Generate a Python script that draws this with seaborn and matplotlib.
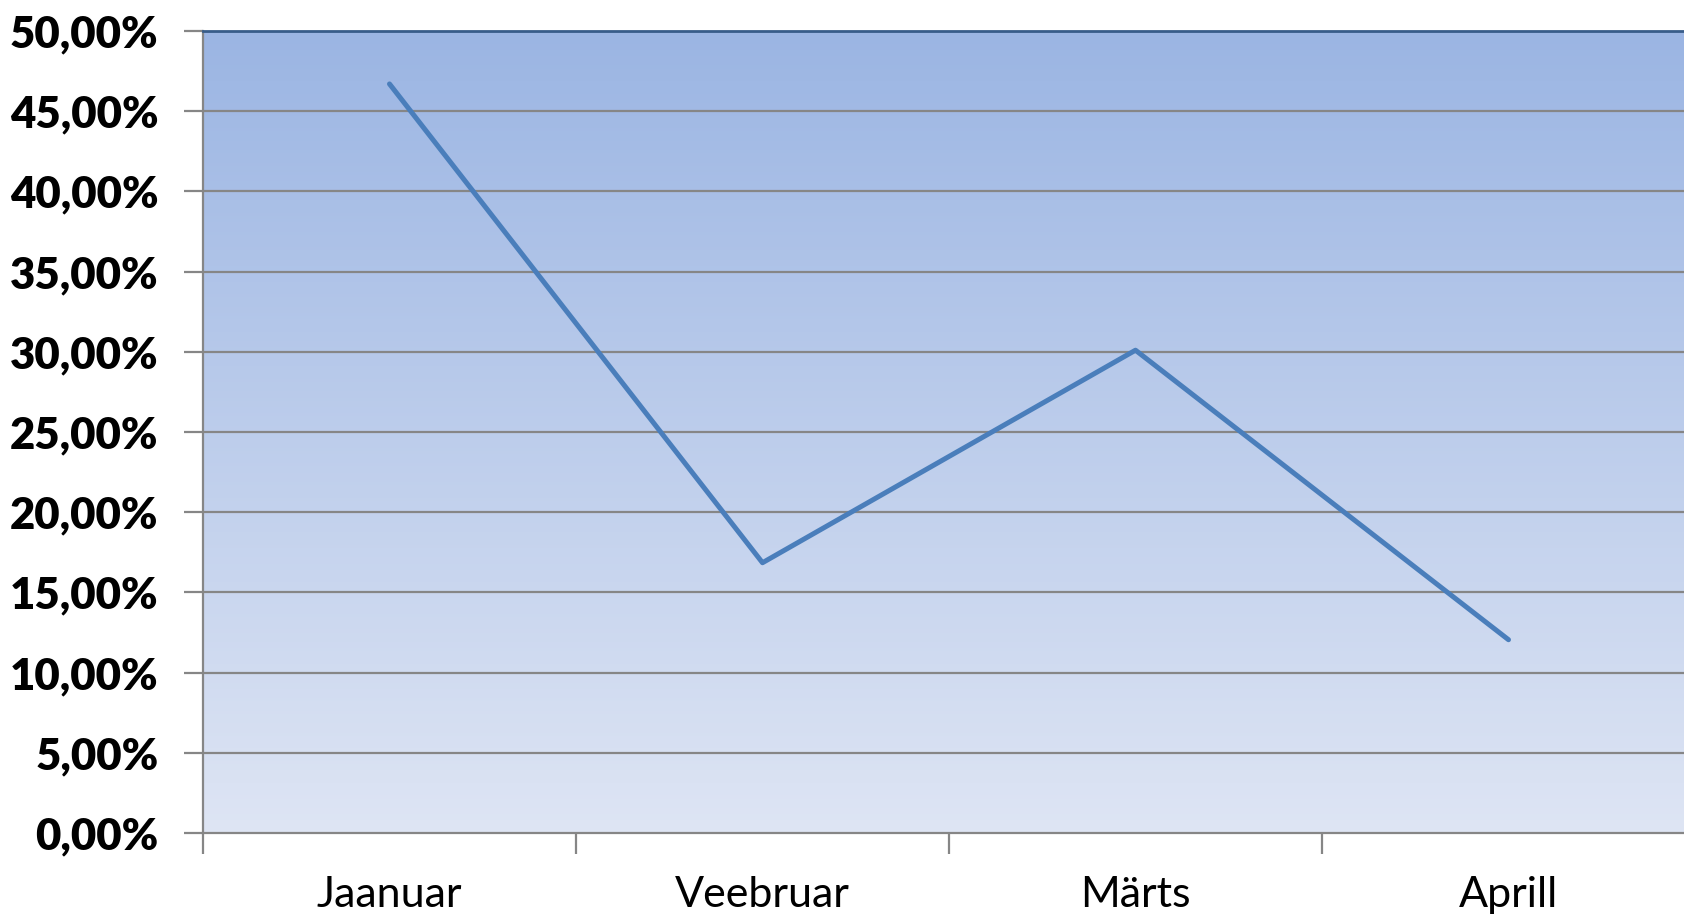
import matplotlib.pyplot as plt
import numpy as np
import pandas as pd
import seaborn as sns
from matplotlib.colors import LinearSegmentedColormap
from matplotlib.ticker import FixedLocator, FuncFormatter

months = ["Jaanuar", "Veebruar", "Märts", "Aprill"]
values = [46.7, 16.85, 30.1, 12.05]
y_ticks = [0, 5, 10, 15, 20, 25, 30, 35, 40, 45, 50]

sns.set_theme(style="white")
plt.rcParams["font.family"] = ["Lato", "DejaVu Sans"]

data = pd.DataFrame({"pos": range(len(months)), "value": values})

fig = plt.figure(figsize=(16.84, 9.18), dpi=100)
ax = fig.add_axes([203 / 1684, 85 / 918, 1492 / 1684, 802 / 918])

# gradient plot background
grad = LinearSegmentedColormap.from_list("bg", ["#dee5f4", "#9bb5e3"])
ax.imshow(np.linspace(0, 1, 256).reshape(-1, 1), cmap=grad, origin="lower",
          aspect="auto", extent=[0, 1, 0, 1], transform=ax.transAxes, zorder=0)

for t in y_ticks[1:]:
    ax.axhline(t, color="#868686", linewidth=1.6, zorder=1)

sns.lineplot(data=data, x="pos", y="value", color="#4a7ebb", linewidth=3.6,
             ax=ax, zorder=3)

ax.set_xlim(-0.5, 3.5)
ax.set_ylim(0, 50)
ax.set_xlabel("")
ax.set_ylabel("")

ax.yaxis.set_major_locator(FixedLocator(y_ticks))
ax.yaxis.set_major_formatter(FuncFormatter(lambda v, _: f"{v:.2f}%".replace(".", ",")))
ax.tick_params(axis="y", which="major", length=14, width=1.6, color="#868686",
               labelsize=31.5, pad=18, left=True, labelcolor="black")
for lbl in ax.get_yticklabels():
    lbl.set_fontweight("heavy")

ax.set_xticks(range(len(months)))
ax.set_xticklabels(months)
ax.set_xticks([-0.5, 0.5, 1.5, 2.5], minor=True)
ax.tick_params(axis="x", which="major", length=0, labelsize=31, pad=31,
               labelcolor="black")
ax.tick_params(axis="x", which="minor", length=15, width=1.6, color="#868686",
               bottom=True)

for side in ["left", "bottom"]:
    ax.spines[side].set_color("#868686")
    ax.spines[side].set_linewidth(1.6)
ax.spines["top"].set_color("#385d8a")
ax.spines["top"].set_linewidth(2)
ax.spines["right"].set_visible(False)

fig.savefig("out.png", dpi=100)
